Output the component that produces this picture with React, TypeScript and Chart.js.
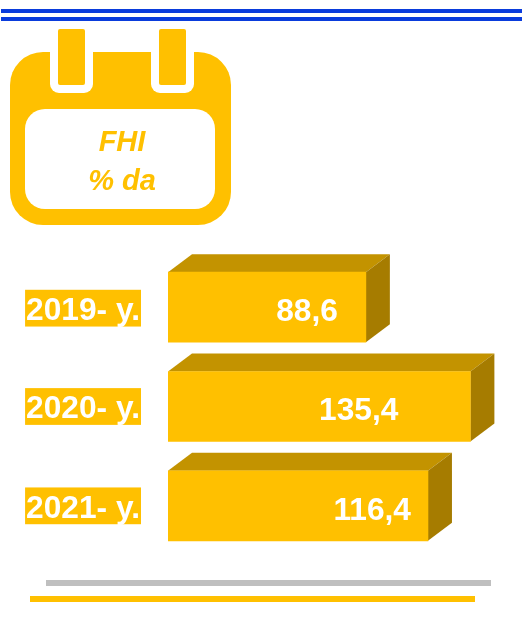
import React, { useEffect, useRef } from "react";
import { Chart, registerables } from "chart.js";

Chart.register(...registerables);

const categories = ["2019- y.", "2020- y.", "2021- y."];
const values = [88.6, 135.4, 116.4];
const valueLabelInsets = [28, 72, 17];
const tickLabelNudges = [4, 3, 3];
const iconLines = ["FHI", "% da"];

const YELLOW = "#FFC000";
const TOP_FACE = "#C39300";
const SIDE_FACE = "#A67C00";
const BLUE = "#0A3CDC";
const GREY = "#BFBFBF";
const FONT = '"Liberation Sans", Arial, sans-serif';
const DEPTH_X = 24;
const DEPTH_Y = 18;

function rr(ctx: CanvasRenderingContext2D, x: number, y: number, w: number, h: number, r: number, fill: string) {
  ctx.beginPath();
  ctx.roundRect(x, y, w, h, r);
  ctx.fillStyle = fill;
  ctx.fill();
}

const decorations = {
  id: "decorations",
  beforeDatasetsDraw(chart: any) {
    const ctx: CanvasRenderingContext2D = chart.ctx;
    ctx.save();
    ctx.fillStyle = BLUE;
    ctx.fillRect(1, 9, 521, 4);
    ctx.fillRect(1, 17, 521, 4);

    rr(ctx, 10, 52, 221, 173, 33, YELLOW);
    rr(ctx, 25, 109, 190, 100, 20, "#FFFFFF");
    for (const x of [50, 151]) {
      ctx.fillStyle = "#FFFFFF";
      ctx.fillRect(x, 40, 43, 30);
      rr(ctx, x, 50, 43, 43, 9, "#FFFFFF");
      rr(ctx, x + 8, 29, 27, 56, 2, YELLOW);
    }
    ctx.fillStyle = YELLOW;
    ctx.font = `italic bold 29px ${FONT}`;
    ctx.textAlign = "center";
    ctx.textBaseline = "alphabetic";
    ctx.fillText(iconLines[0], 122, 151);
    ctx.fillText(iconLines[1], 122, 190);

    ctx.fillStyle = GREY;
    ctx.fillRect(46, 580, 445, 6);
    ctx.fillStyle = YELLOW;
    ctx.fillRect(30, 596, 445, 6);

    chart.getDatasetMeta(0).data.forEach((bar: any) => {
      const left = bar.base;
      const right = bar.x;
      const top = bar.y - bar.height / 2;
      const bottom = bar.y + bar.height / 2;
      ctx.fillStyle = TOP_FACE;
      ctx.beginPath();
      ctx.moveTo(left, top);
      ctx.lineTo(left + DEPTH_X, top - DEPTH_Y);
      ctx.lineTo(right + DEPTH_X, top - DEPTH_Y);
      ctx.lineTo(right, top);
      ctx.closePath();
      ctx.fill();
      ctx.fillStyle = SIDE_FACE;
      ctx.beginPath();
      ctx.moveTo(right, top);
      ctx.lineTo(right + DEPTH_X, top - DEPTH_Y);
      ctx.lineTo(right + DEPTH_X, bottom - DEPTH_Y);
      ctx.lineTo(right, bottom);
      ctx.closePath();
      ctx.fill();
    });
    ctx.restore();
  },
  afterDatasetsDraw(chart: any) {
    const ctx: CanvasRenderingContext2D = chart.ctx;
    ctx.save();
    ctx.fillStyle = "#FFFFFF";
    ctx.font = `bold 31.7px ${FONT}`;
    ctx.textAlign = "right";
    ctx.textBaseline = "middle";
    chart.getDatasetMeta(0).data.forEach((bar: any, i: number) => {
      const text = values[i].toFixed(1).replace(".", ",");
      ctx.fillText(text, bar.x - valueLabelInsets[i], bar.y + 5);
    });
    ctx.restore();
  },
};

export default function App() {
  const ref = useRef<HTMLCanvasElement>(null);
  useEffect(() => {
    const chart = new Chart(ref.current!, {
      type: "bar",
      data: {
        labels: categories,
        datasets: [
          {
            data: values,
            backgroundColor: YELLOW,
            borderWidth: 0,
            barThickness: 70,
          },
        ],
      },
      options: {
        indexAxis: "y",
        responsive: false,
        animation: false,
        layout: { padding: { top: 257.5, bottom: 68.5, left: 0, right: 19 } },
        plugins: { legend: { display: false }, tooltip: { enabled: false } },
        scales: {
          x: { display: false, min: 0, max: 150 },
          y: {
            afterFit: (s: any) => {
              s.width = 168;
              const base = s.getPixelForTick.bind(s);
              s.getPixelForTick = (i: number) => base(i) + tickLabelNudges[i];
            },
            grid: { display: false, drawTicks: false },
            border: { display: false },
            ticks: {
              color: "#FFFFFF",
              padding: 28,
              font: { family: FONT, weight: "bold", size: 31.7, lineHeight: 1.16 },
              showLabelBackdrop: true,
              backdropColor: YELLOW,
              backdropPadding: { top: 3, bottom: -3, left: 1, right: 1 },
            },
          },
        },
      },
      plugins: [decorations],
    } as any);
    return () => chart.destroy();
  }, []);
  return (
    <canvas
      ref={ref}
      width={522}
      height={624}
      style={{ position: "absolute", left: 0, top: 0, display: "block" }}
    />
  );
}
